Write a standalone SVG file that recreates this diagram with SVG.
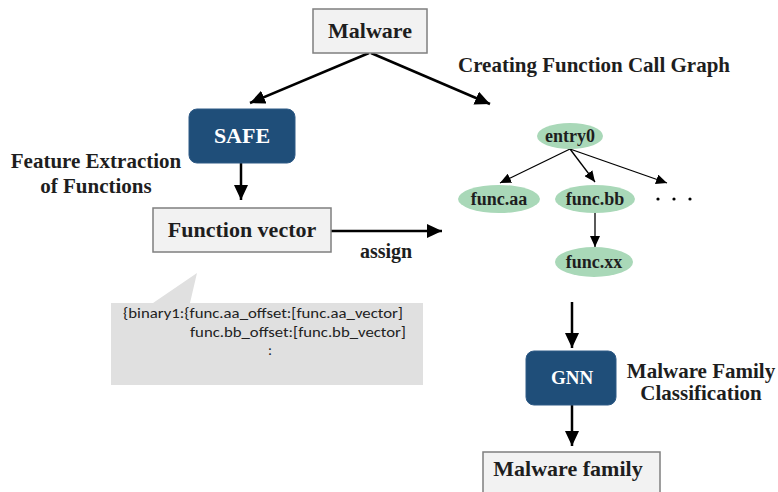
<svg xmlns="http://www.w3.org/2000/svg" width="778" height="492" viewBox="0 0 778 492">
<style>
.box{fill:#f2f2f2;stroke:#7f7f7f;stroke-width:1.5}
.dark{fill:#1f4e79;stroke:#2e5a86;stroke-width:1}
.ell{fill:#a9d8b8}
.t{font-family:"Liberation Serif","Times New Roman",serif;font-weight:bold;fill:#1e1e1e;text-anchor:middle}
.w{fill:#ffffff}
.main{stroke:#000;stroke-width:2.5;fill:none;marker-end:url(#big)}
.thin{stroke:#000;stroke-width:1.3;fill:none;marker-end:url(#small)}
.code{font-family:"Carlito","Liberation Sans",Arial,sans-serif;font-size:15px;fill:#222}
</style>
<defs>
<marker id="big" markerUnits="userSpaceOnUse" markerWidth="16" markerHeight="14" refX="15" refY="7" orient="auto"><path d="M0,0 L15,7 L0,14 z" fill="#000"/></marker>
<marker id="small" markerUnits="userSpaceOnUse" markerWidth="12" markerHeight="10" refX="11" refY="5" orient="auto"><path d="M0,0 L11,5 L0,10 z" fill="#000"/></marker>
</defs>
<rect width="778" height="492" fill="#ffffff"/>

<g id="connectors">
<line class="main" x1="369" y1="53" x2="250" y2="103"/>
<line class="main" x1="371" y1="53" x2="490" y2="104"/>
<line class="main" x1="241" y1="163" x2="241" y2="200"/>
<line class="main" x1="331" y1="231" x2="442" y2="231"/>
<line class="main" x1="572" y1="302" x2="572" y2="348"/>
<line class="main" x1="572" y1="405" x2="572" y2="446"/>
<line class="thin" x1="570" y1="149" x2="500" y2="183"/>
<line class="thin" x1="570" y1="149" x2="595" y2="182"/>
<line class="thin" x1="570" y1="149" x2="667" y2="183"/>
<line class="thin" x1="595" y1="213" x2="595" y2="247"/>
</g>

<g id="malware"><rect class="box" x="313" y="9" width="114" height="44"/><text class="t" x="370" y="38" font-size="22">Malware</text></g>
<g id="safe"><rect class="dark" x="189" y="109" width="106" height="54" rx="8"/><text class="t w" x="242" y="143" font-size="22">SAFE</text></g>
<g id="function-vector"><rect class="box" x="153" y="208" width="178" height="44"/><text class="t" x="242" y="237" font-size="22">Function vector</text></g>
<g id="entry0"><ellipse class="ell" cx="570" cy="136" rx="33" ry="13"/><text class="t" x="570" y="142" font-size="18">entry0</text></g>
<g id="func-aa"><ellipse class="ell" cx="499" cy="199" rx="41" ry="14"/><text class="t" x="499" y="205" font-size="18">func.aa</text></g>
<g id="func-bb"><ellipse class="ell" cx="595" cy="199" rx="40" ry="14"/><text class="t" x="595" y="205" font-size="18">func.bb</text></g>
<g id="func-xx"><ellipse class="ell" cx="594" cy="262" rx="39" ry="15"/><text class="t" x="594" y="268" font-size="18">func.xx</text></g>
<g id="dots" fill="#000"><circle cx="658" cy="199" r="1.6"/><circle cx="674" cy="199" r="1.6"/><circle cx="690" cy="199" r="1.6"/></g>
<g id="gnn"><rect class="dark" x="526" y="351" width="90" height="54" rx="8"/><text class="t w" x="572" y="384" font-size="19">GNN</text></g>
<g id="malware-family"><rect class="box" x="483" y="452" width="177" height="46"/><text class="t" x="568" y="476" font-size="22">Malware family</text></g>

<g id="bubble">
<path d="M111,303 L153,303 L197,273 L190,303 L423,303 L423,385 L111,385 z" fill="#e0e0e0"/>
<text class="code" x="123" y="318" textLength="280" lengthAdjust="spacingAndGlyphs">{binary1:{func.aa_offset:[func.aa_vector]</text>
<text class="code" x="190" y="337" textLength="216" lengthAdjust="spacingAndGlyphs">func.bb_offset:[func.bb_vector]</text>
<text class="code" x="268" y="355">:</text>
</g>

<g id="labels">
<text class="t" x="96" y="168" font-size="21">Feature Extraction</text>
<text class="t" x="96" y="193" font-size="21">of Functions</text>
<text class="t" x="594" y="72" font-size="21">Creating Function Call Graph</text>
<text class="t" x="386" y="258" font-size="20">assign</text>
<text class="t" x="701" y="378" font-size="21">Malware Family</text>
<text class="t" x="701" y="400" font-size="21">Classification</text>
</g>
</svg>
